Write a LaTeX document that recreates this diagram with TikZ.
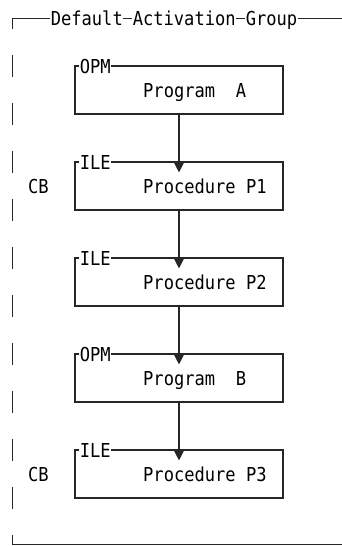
\documentclass[tikz,border=0pt]{standalone}
\usepackage{fontspec}
\usetikzlibrary{arrows.meta}
\newfontfamily\diafont[FakeStretch=0.89]{DejaVu Sans Mono}
\begin{document}
\begin{tikzpicture}[x=1pt,y=-1pt,
  txt/.style={font=\diafont\fontsize{19.2}{21}\selectfont, inner sep=0pt, anchor=base west},
  tag/.style={txt, fill=white, inner xsep=0.6pt, inner ysep=1pt},
  frameline/.style={line width=1.15pt, draw=black!85},
  pgmbox/.style={frameline, rectangle, minimum width=208pt, minimum height=48pt, inner sep=0pt},
  callarrow/.style={frameline, -{Triangle[length=10pt,width=10pt]}, shorten >=-11pt}
]
\useasboundingbox (0,0) rectangle (342,546);

% activation group frame: solid top and bottom, broken left side
\coordinate (tl) at (12.7,18.3);
\coordinate (bl) at (12.7,544.8);
\coordinate (tr) at (342,18.3);
\coordinate (br) at (342,544.8);
\draw[frameline] (tr) -- (tl);
\draw[frameline] (bl) -- (br);
\draw[frameline, dash pattern=on 22pt off 26pt, dash phase=11pt] (tl) -- (bl);
\node[tag] (t1) at (50,25) {Default};
\node[tag] (t2) at (132,25) {Activation};
\node[tag] (t3) at (245,25) {Group};

% program and procedure boxes
\node[pgmbox] (pa) at (179,90) {};
\node[pgmbox] (p1) at (179,186) {};
\node[pgmbox] (p2) at (179,282) {};
\node[pgmbox] (pb) at (179,378) {};
\node[pgmbox] (p3) at (179,474) {};

% environment tags on the box tops
\node[tag] (ka) at (79,73) {OPM};
\node[tag] (k1) at (79,169) {ILE};
\node[tag] (k2) at (79,265) {ILE};
\node[tag] (kb) at (79,361) {OPM};
\node[tag] (k3) at (79,457) {ILE};

% box contents
\node[txt] (na) at (143,97) {Program\ \ A};
\node[txt] (n1) at (143,193) {Procedure P1};
\node[txt] (n2) at (143,289) {Procedure P2};
\node[txt] (nb) at (143,385) {Program\ \ B};
\node[txt] (n3) at (143,481) {Procedure P3};

% control boundaries
\node[txt] (cb1) at (28,193) {CB};
\node[txt] (cb2) at (28,481) {CB};

% call flow
\draw[callarrow] (pa.south) -- (p1.north);
\draw[callarrow] (p1.south) -- (p2.north);
\draw[callarrow] (p2.south) -- (pb.north);
\draw[callarrow] (pb.south) -- (p3.north);
\end{tikzpicture}
\end{document}
